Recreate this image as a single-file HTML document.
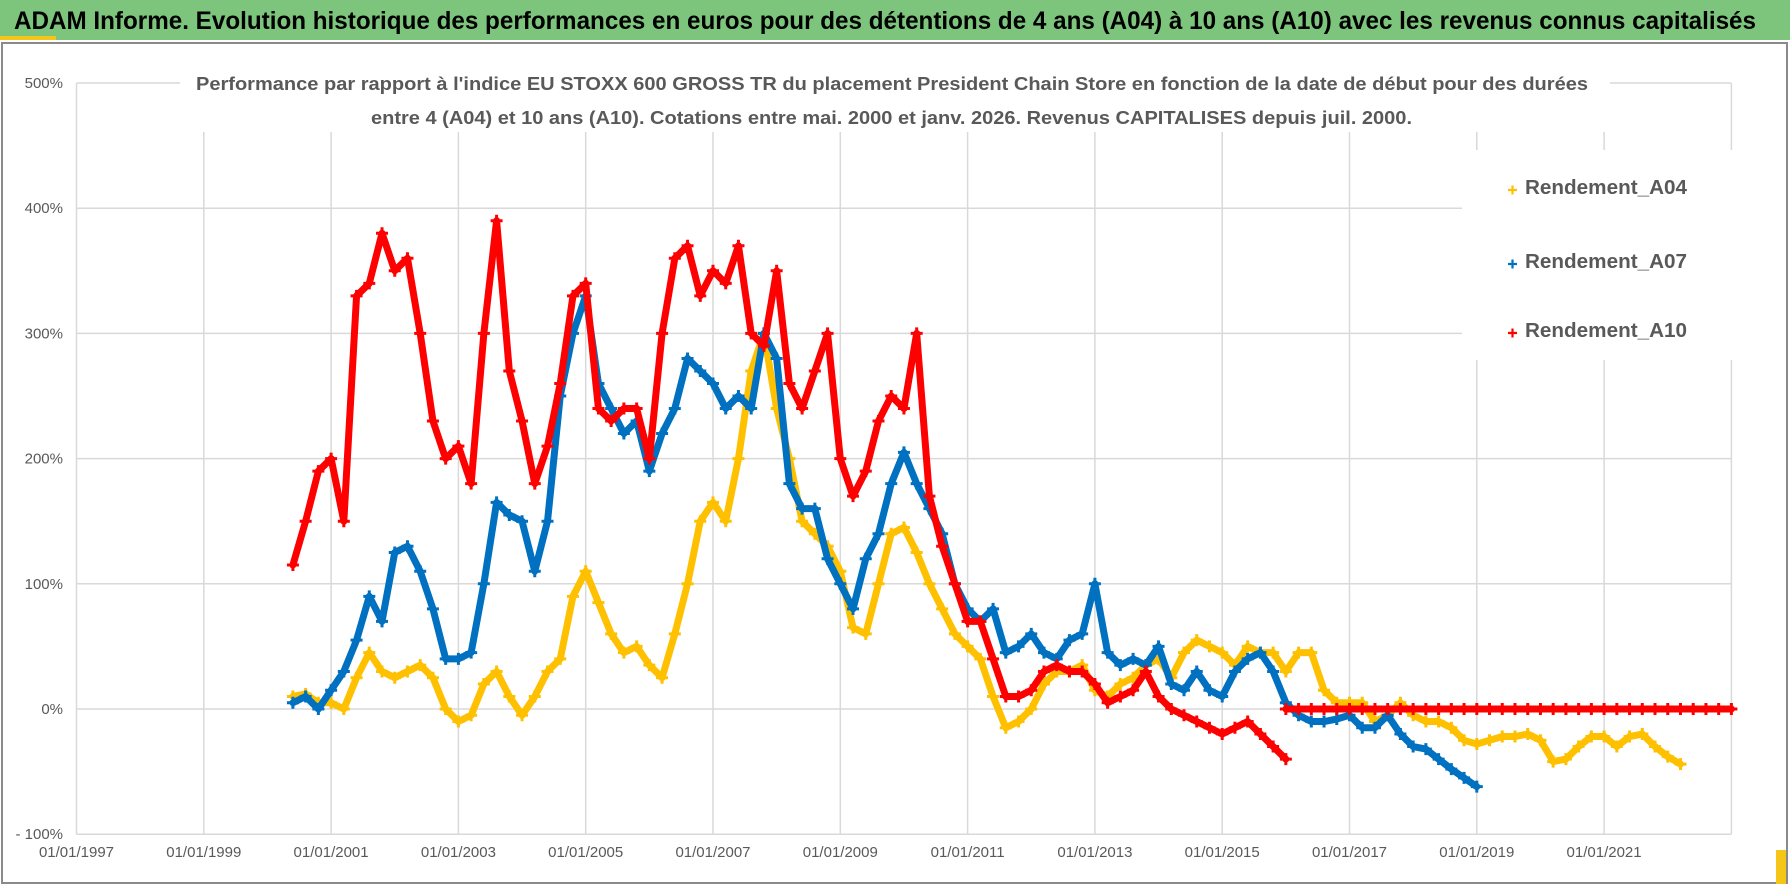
<!DOCTYPE html>
<html><head><meta charset="utf-8"><style>
html,body{margin:0;padding:0;background:#fff;}
svg{display:block;font-family:"Liberation Sans",sans-serif;}
</style></head><body>
<svg id="chart" width="1790" height="886" viewBox="0 0 1790 886">
<rect x="0" y="0" width="1790" height="886" fill="#fff"/>
<rect x="0" y="0" width="1790" height="40" fill="#7dc57c"/>
<rect x="0" y="36" width="56" height="4" fill="#f5c518"/>
<text x="14" y="29" font-size="25" font-weight="bold" fill="#000" textLength="1742" lengthAdjust="spacingAndGlyphs">ADAM Informe. Evolution historique des performances en euros pour des détentions de 4 ans (A04) à 10 ans (A10) avec les revenus connus capitalisés</text>
<rect x="2" y="43" width="1785" height="840" fill="none" stroke="#8a8a8a" stroke-width="2"/>
<rect x="1776" y="850" width="10" height="34" fill="#f5c518"/>
<g id="grid"></g>
<g id="ylabels"></g>
<g id="xlabels"></g>
<rect x="180" y="66" width="1430" height="66" fill="#fff"/>
<text x="196" y="90" font-size="18" font-weight="bold" fill="#595959" textLength="1392" lengthAdjust="spacingAndGlyphs">Performance par rapport à l'indice EU STOXX 600 GROSS TR  du placement President Chain Store  en fonction de la date de début pour des durées</text>
<text x="371" y="124" font-size="18" font-weight="bold" fill="#595959" textLength="1041" lengthAdjust="spacingAndGlyphs">entre 4 (A04) et 10 ans (A10).  Cotations entre mai. 2000 et janv. 2026. Revenus CAPITALISES depuis juil. 2000.</text>
<g id="series"></g>
<rect x="1462" y="150" width="296" height="210" fill="#fff"/>
<g id="legend"></g>
</svg>
<script>
const yTicks = [-100, 0, 100, 200, 300, 400, 500];
const yTickLabels = ['- 100%', '0%', '100%', '200%', '300%', '400%', '500%'];
const xTicks = [1997, 1999, 2001, 2003, 2005, 2007, 2009, 2011, 2013, 2015, 2017, 2019, 2021, 2023];
const xTickLabels = ['01/01/1997','01/01/1999','01/01/2001','01/01/2003','01/01/2005','01/01/2007','01/01/2009','01/01/2011','01/01/2013','01/01/2015','01/01/2017','01/01/2019','01/01/2021',''];
const step = 0.2;
const a04Start = 2000.4;
const a04 = [10,12,5,5,0,25,45,30,25,30,35,25,0,-10,-5,20,30,10,-5,10,30,40,90,110,85,60,45,50,35,25,60,100,150,165,150,200,270,300,240,200,150,140,130,110,65,60,100,140,145,125,100,80,60,50,40,10,-15,-10,0,20,30,30,35,15,10,20,25,35,40,25,45,55,50,45,35,50,45,45,30,45,45,15,5,5,5,-10,-5,5,-5,-10,-10,-15,-25,-28,-25,-22,-22,-20,-25,-42,-40,-30,-22,-22,-30,-22,-20,-30,-38,-44];
const a07Start = 2000.4;
const a07 = [5,10,0,15,30,55,90,70,125,130,110,80,40,40,45,100,165,155,150,110,150,250,300,330,260,240,220,230,190,220,240,280,270,260,240,250,240,300,280,180,160,160,120,100,80,120,140,180,205,180,160,140,100,80,70,80,45,50,60,45,40,55,60,100,45,35,40,35,50,20,15,30,15,10,30,40,45,30,5,-5,-10,-10,-8,-5,-15,-15,-5,-20,-30,-32,-40,-48,-55,-62];
const a10Start = 2000.4;
const a10 = [115,150,190,200,150,330,340,380,350,360,300,230,200,210,180,300,390,270,230,180,210,260,330,340,240,230,240,240,200,300,360,370,330,350,340,370,300,290,350,260,240,270,300,200,170,190,230,250,240,300,170,130,100,70,70,40,10,10,15,30,35,30,30,20,5,10,15,30,10,0,-5,-10,-15,-20,-15,-10,-20,-30,-40];
const a10ZeroStart = 2016.0;
const a10Zero = [0,0,0,0,0,0,0,0,0,0,0,0,0,0,0,0,0,0,0,0,0,0,0,0,0,0,0,0,0,0,0,0,0,0,0,0];

const NS = 'http://www.w3.org/2000/svg';
function xScale(yr){ return 76.5 + (yr - 1997) * 63.65; }
function yScale(v){ return 709 - v * 1.252; }
function mk(tag, attrs, parent){ const e = document.createElementNS(NS, tag); for (const k in attrs) e.setAttribute(k, attrs[k]); parent.appendChild(e); return e; }

const grid = document.getElementById('grid');
const yl = document.getElementById('ylabels');
const xl = document.getElementById('xlabels');
yTicks.forEach((t, i) => {
  const l = mk('line', {x1: xScale(1997), x2: xScale(2023), y1: yScale(t), y2: yScale(t), stroke: '#d9d9d9', 'stroke-width': 1.5}, grid);
  
  
  const tx = mk('text', {x: 63, y: yScale(t) + 5, 'text-anchor': 'end', 'font-size': 15, fill: '#595959'}, yl);
  tx.textContent = yTickLabels[i];
  
  
});
xTicks.forEach((t, i) => {
  const l = mk('line', {x1: xScale(t), x2: xScale(t), y1: yScale(500), y2: yScale(-100), stroke: '#d9d9d9', 'stroke-width': 1.5}, grid);
  
  
  const tx = mk('text', {x: xScale(t), y: 857, 'text-anchor': 'middle', 'font-size': 15, fill: '#595959'}, xl);
  tx.textContent = xTickLabels[i];
  
  
});

const ser = document.getElementById('series');
function drawSeries(vals, start, color, name){
  const g = mk('g', {fill: 'none'}, ser);
  
  
  let pts = '';
  let d = '';
  vals.forEach((v, i) => {
    const x = xScale(start + i * step), y = yScale(v);
    pts += x + ',' + y + ' ';
    d += 'M' + (x - 6) + ' ' + y + 'h12M' + x + ' ' + (y - 6) + 'v12';
  });
  const band = mk('polyline', {points: pts.trim(), stroke: color, 'stroke-width': 7, 'stroke-linejoin': 'round', 'stroke-linecap': 'round'}, g);
  
  
  const p = mk('path', {d: d, stroke: color, 'stroke-width': 3}, g);
  
  
}
drawSeries(a04, a04Start, '#ffc000', 'series-a04');
drawSeries(a07, a07Start, '#0070c0', 'series-a07');
drawSeries(a10, a10Start, '#ff0000', 'series-a10');
drawSeries(a10Zero, a10ZeroStart, '#ff0000', 'series-a10-zero');

const leg = document.getElementById('legend');
const legendItems = [['Rendement_A04', '#ffc000', 187], ['Rendement_A07', '#0070c0', 261], ['Rendement_A10', '#ff0000', 330]];
legendItems.forEach(it => {
  const g = mk('g', {}, leg);
  
  
  mk('path', {d: 'M1508 ' + (it[2] + 3) + 'h9M1512.5 ' + (it[2] - 1.5) + 'v9', stroke: it[1], 'stroke-width': 2.2}, g);
  const t = mk('text', {x: 1525, y: it[2] + 7, 'font-size': 20, 'font-weight': 'bold', fill: '#595959', textLength: 162, lengthAdjust: 'spacingAndGlyphs'}, g);
  t.textContent = it[0];
});
</script>
</body></html>
